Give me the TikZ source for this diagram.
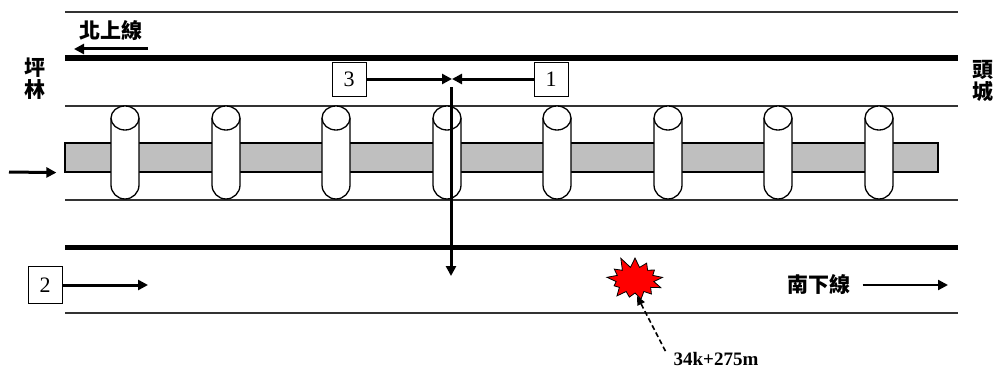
\documentclass[tikz,border=0pt]{standalone}
\usepackage{fontspec}
\setmainfont{Liberation Serif}
\newfontfamily\cjk{Noto Sans CJK TC}
\usepackage{tikz}
\usetikzlibrary{arrows.meta, shapes.symbols, positioning}
\tikzstyle{track} = [line width=5pt]
\tikzstyle{rail} = [line width=1.4pt, draw=black!80]
\tikzstyle{arrow} = [line width=3pt, -{Triangle[length=10pt, width=10pt]}]
\tikzstyle{numbox} = [draw, line width=0.9pt, minimum width=34pt, minimum height=34pt, inner sep=0pt, font=\fontsize{22}{22}\selectfont]
\tikzstyle{place} = [font=\cjk\bfseries\fontsize{21}{22}\selectfont, align=center, inner sep=0pt]
\tikzstyle{pier} = [draw, line width=1.3pt, fill=white]
\tikzstyle{pointer} = [line width=1.6pt, dash pattern=on 5pt off 3pt, -{Triangle[length=9pt, width=8pt]}]

\begin{document}
\begin{tikzpicture}[x=1pt, y=-1pt]
    \useasboundingbox (0,0) rectangle (1000,369);
    % tracks
    \draw[rail] (65,12) -- (958,12);
    \draw[track] (65,58) -- (958,58);
    \draw[rail] (65,106) -- (958,106);
    \draw[rail] (65,200) -- (958,200);
    \draw[track] (65,247) -- (958,247);
    \draw[rail] (65,313) -- (958,313);
    % beam and piers
    \node[draw, line width=1.2pt, fill=black!25, minimum width=873pt, minimum height=29pt, inner sep=0pt] (beam) at (501.5,157.5) {};
    \foreach \x in {125,226,336,447,557,668,778,879} {
        \draw[pier] (\x-14,118) -- (\x-14,185) arc[start angle=180, end angle=360, radius=14pt] -- (\x+14,118);
        \draw[pier] (\x,118) ellipse[x radius=14pt, y radius=12pt];
    }
    \coordinate (flow in) at (9,172);
    \draw[arrow] (flow in) -- ([xshift=-8pt]beam.south west);
    % stations and directions
    \node[place] (pinglin) at (35,79) {坪\\林};
    \node[place] (toucheng) at (983,81) {頭\\城};
    \node[place] (north) at (111,31) {北上線};
    \coordinate (north from) at (148,49);
    \coordinate (north to) at (74,49);
    \draw[arrow] (north from) -- (north to);
    \node[place] (south) at (819,285) {南下線};
    \coordinate (south to) at (948,285);
    \draw[arrow, line width=2.2pt] ([xshift=12pt]south.east) -- (south to);
    % trains
    \node[numbox] (n3) at (349,79) {3};
    \node[numbox] (n1) at (551,79) {1};
    \node[numbox, minimum height=37pt] (n2) at (45,285) {2};
    \coordinate (meet) at (452,79);
    \draw[arrow] (n3) -- (meet);
    \draw[arrow] (n1) -- (meet);
    \coordinate (drop top) at (451,87);
    \coordinate (drop end) at (451,276);
    \draw[arrow] (drop top) -- (drop end);
    \coordinate (n2 to) at (148,285);
    \draw[arrow] (n2) -- (n2 to);
    % accident point
    \node[starburst, draw, fill=red, line width=0.8pt, minimum width=62pt, minimum height=50pt, starburst points=13, starburst point height=12pt, random starburst=11, inner sep=0pt] (blast) at (635,280) {};
    \node[font=\bfseries\fontsize{19}{19}\selectfont, inner sep=1pt] (km) at (716,359) {34k+275m};
    \coordinate (blast tip) at (637,296);
    \draw[pointer] ([xshift=-7pt]km.north west) -- (blast tip);
\end{tikzpicture}
\end{document}
